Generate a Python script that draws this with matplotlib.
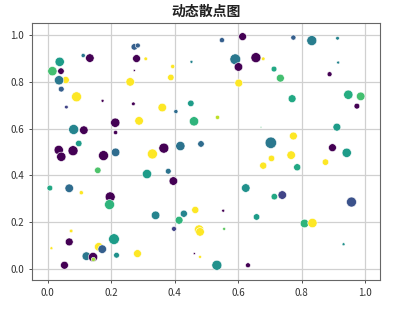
import matplotlib
matplotlib.use('Agg')
import matplotlib.pyplot as plt

plt.rcParams['font.family'] = ['Noto Sans CJK SC', 'DejaVu Sans']
plt.rcParams['axes.unicode_minus'] = False

# point positions
x = [0.614, 0.549, 0.774, 0.832, 0.913, 0.112, 0.133, 0.273, 0.284, 0.280,
     0.309, 0.453, 0.591, 0.656, 0.679, 0.915, 0.038, 0.015, 0.042, 0.057,
     0.036, 0.043, 0.273, 0.394, 0.388, 0.260, 0.602, 0.601, 0.713, 0.733,
     0.888, 0.947, 0.986, 0.974, 0.770, 0.091, 0.173, 0.059, 0.270, 0.361,
     0.404, 0.451, 0.461, 0.535, 0.288, 0.213, 0.214, 0.672, 0.082, 0.114,
     0.098, 0.035, 0.043, 0.080, 0.176, 0.214, 0.330, 0.366, 0.418, 0.483,
     0.703, 0.774, 0.911, 0.897, 0.942, 0.705, 0.767, 0.679, 0.786, 0.875,
     0.158, 0.313, 0.380, 0.396, 0.007, 0.068, 0.106, 0.197, 0.195, 0.340,
     0.414, 0.429, 0.465, 0.398, 0.477, 0.480, 0.553, 0.556, 0.624, 0.714,
     0.739, 0.658, 0.957, 0.809, 0.834, 0.932, 0.074, 0.068, 0.012, 0.053,
     0.161, 0.172, 0.122, 0.143, 0.144, 0.209, 0.217, 0.283, 0.462, 0.480,
     0.533, 0.631]
y = [0.994, 0.979, 0.990, 0.977, 0.987, 0.913, 0.902, 0.950, 0.956, 0.900,
     0.899, 0.886, 0.897, 0.904, 0.899, 0.883, 0.886, 0.846, 0.846, 0.808,
     0.807, 0.769, 0.849, 0.866, 0.819, 0.800, 0.795, 0.864, 0.855, 0.816,
     0.833, 0.745, 0.738, 0.696, 0.728, 0.736, 0.719, 0.692, 0.706, 0.690,
     0.673, 0.708, 0.631, 0.648, 0.633, 0.625, 0.583, 0.605, 0.596, 0.593,
     0.536, 0.508, 0.479, 0.505, 0.484, 0.498, 0.491, 0.516, 0.525, 0.534,
     0.539, 0.568, 0.606, 0.518, 0.496, 0.472, 0.486, 0.441, 0.434, 0.456,
     0.421, 0.405, 0.417, 0.375, 0.345, 0.344, 0.325, 0.307, 0.274, 0.228,
     0.207, 0.235, 0.251, 0.170, 0.167, 0.157, 0.248, 0.170, 0.345, 0.308,
     0.315, 0.221, 0.285, 0.193, 0.195, 0.104, 0.161, 0.114, 0.087, 0.014,
     0.093, 0.083, 0.053, 0.049, 0.039, 0.126, 0.057, 0.064, 0.064, 0.050,
     0.014, 0.014]
# colour values (viridis scale)
colors = [0.00, 0.30, 0.30, 0.42, 0.45, 0.40, 0.00, 0.30, 0.30, 0.00,
          1.00, 0.45, 0.40, 0.00, 1.00, 0.45, 0.55, 0.70, 0.00, 1.00,
          0.40, 0.30, 0.00, 1.00, 1.00, 1.00, 1.00, 0.00, 0.60, 0.70,
          0.00, 0.62, 0.70, 0.00, 0.60, 1.00, 0.00, 0.20, 0.00, 1.00,
          0.35, 0.55, 0.65, 0.90, 1.00, 0.00, 0.00, 0.70, 0.45, 0.00,
          0.55, 0.00, 0.00, 0.00, 0.00, 0.35, 1.00, 0.00, 0.38, 0.35,
          0.40, 1.00, 0.55, 0.00, 0.55, 1.00, 1.00, 1.00, 0.60, 1.00,
          0.72, 0.55, 0.38, 0.00, 0.60, 0.35, 1.00, 0.00, 0.65, 0.45,
          0.65, 0.45, 1.00, 0.20, 1.00, 1.00, 0.00, 0.75, 0.50, 0.60,
          0.20, 0.55, 0.25, 0.65, 1.00, 0.50, 1.00, 0.00, 1.00, 0.00,
          1.00, 0.30, 0.40, 0.00, 0.85, 0.55, 0.50, 1.00, 0.00, 1.00,
          0.50, 0.00]
# marker areas
sizes = [28, 12, 12, 45, 6, 8, 33, 19, 11, 28,
         6, 4, 52, 45, 6, 4, 39, 39, 19, 23,
         39, 15, 2, 8, 19, 33, 28, 33, 15, 28,
         11, 39, 33, 15, 28, 45, 4, 6, 6, 33,
         8, 19, 39, 8, 33, 39, 8, 1, 45, 33,
         19, 39, 39, 45, 45, 33, 45, 45, 39, 19,
         59, 28, 28, 28, 39, 19, 33, 23, 23, 19,
         19, 39, 15, 33, 15, 33, 8, 45, 45, 33,
         28, 23, 23, 11, 39, 33, 4, 4, 33, 19,
         33, 19, 45, 33, 39, 4, 6, 28, 4, 28,
         33, 33, 33, 39, 8, 52, 15, 28, 2, 4,
         45, 11]

fig = plt.figure(figsize=(4.1, 3.09), dpi=100)
ax = fig.add_axes([0.079, 0.094, 0.848, 0.832])

ax.scatter(x, y, c=colors, s=[v * 1.15 for v in sizes], cmap='viridis',
           vmin=0, vmax=1, edgecolors='white', linewidths=0.4, zorder=3)

ax.set_xlim(-0.048, 1.047)
ax.set_ylim(-0.049, 1.053)
ax.set_xticks([0.0, 0.2, 0.4, 0.6, 0.8, 1.0])
ax.set_yticks([0.0, 0.2, 0.4, 0.6, 0.8, 1.0])
ax.tick_params(labelsize=7, colors='#333333', length=2.5, width=0.6)
ax.grid(True, color='#d0d0d0', linewidth=0.9, zorder=0)
for sp in ax.spines.values():
    sp.set_color('#666666')
    sp.set_linewidth(0.8)

ax.set_title('动态散点图', fontsize=10, fontweight='bold', color='#222222', pad=5)

fig.savefig('out.png', dpi=100)
